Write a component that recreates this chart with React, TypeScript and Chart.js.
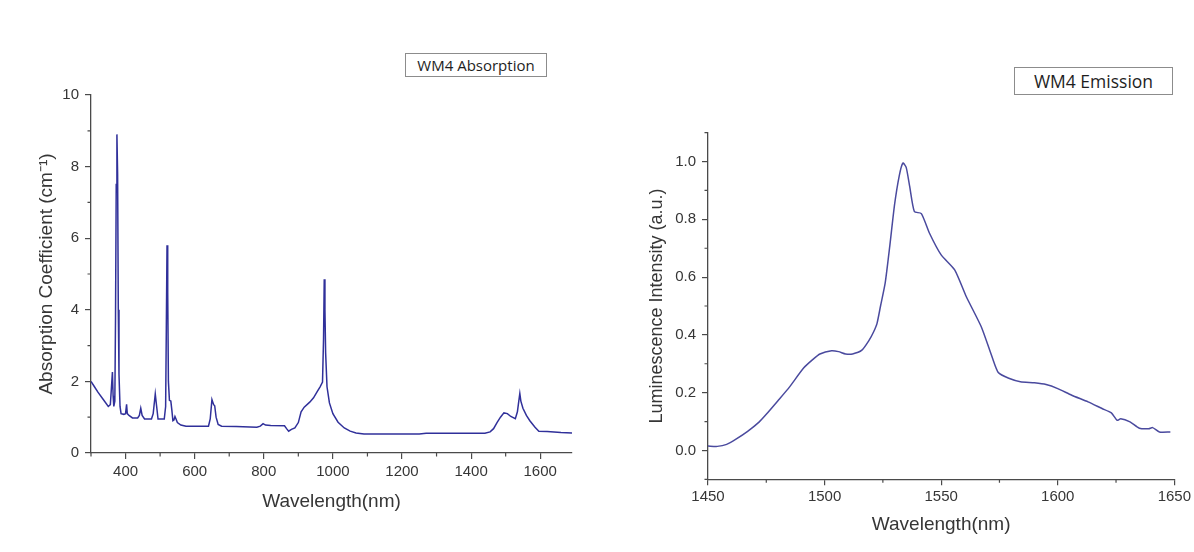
import React, { useEffect, useRef } from 'react';
import { Chart, registerables } from 'chart.js';

Chart.register(...registerables);

// ---------- Data: WM4 absorption ----------
const absWavelength = [
  300, 310, 320, 335, 350, 356, 359, 362, 364, 366, 369, 371, 373, 375, 377, 379, 381, 384, 387,
  395, 400, 403, 405, 410, 420, 435, 440, 444, 448, 455, 475, 480, 486, 490, 494, 512, 516, 518,
  520, 522, 524, 527, 531, 534, 537, 540, 543, 546, 550, 560, 575, 640, 645, 650, 655, 658, 662,
  668, 678, 720, 780, 790, 798, 805, 820, 860, 866, 872, 880, 890, 900, 908, 917, 933, 944, 955,
  963, 970, 973, 975, 977, 979, 983, 990, 1000, 1015, 1033, 1050, 1067, 1090, 1250, 1270, 1440,
  1455, 1465, 1475, 1485, 1495, 1505, 1515, 1528, 1534, 1538, 1541, 1544, 1550, 1560, 1570, 1585,
  1596, 1620, 1660, 1692,
];
const absCoefficient = [
  2.0, 1.85, 1.7, 1.5, 1.3, 1.35, 1.8, 2.26, 1.6, 1.3, 1.45, 3.8, 7.5, 8.9, 7.8, 4.0, 2.2, 1.3, 1.1,
  1.08, 1.1, 1.36, 1.1, 1.05, 0.98, 0.98, 1.05, 1.25, 1.05, 0.95, 0.95, 1.1, 1.65, 1.3, 0.95, 0.95, 1.3, 3.5,
  5.8, 4.5, 2.0, 1.47, 1.45, 1.2, 0.9, 0.92, 1.02, 0.95, 0.85, 0.78, 0.75, 0.75, 0.95, 1.49, 1.35, 1.32, 1.0,
  0.8, 0.75, 0.74, 0.72, 0.75, 0.82, 0.78, 0.77, 0.76, 0.68, 0.61, 0.66, 0.7, 0.85, 1.15, 1.28, 1.42, 1.54, 1.72,
  1.85, 1.98, 3.2, 4.85, 4.0, 2.8, 1.85, 1.4, 1.1, 0.86, 0.7, 0.61, 0.56, 0.53, 0.53, 0.55, 0.55,
  0.59, 0.68, 0.85, 1.0, 1.12, 1.1, 1.02, 0.96, 1.15, 1.45, 1.66, 1.45, 1.25, 1.05, 0.9, 0.72,
  0.61, 0.6, 0.57, 0.56,
];
const absXTicks = [400, 600, 800, 1000, 1200, 1400, 1600];
const absXMinor = [300, 500, 700, 900, 1100, 1300, 1500];
const absYTicks = [0, 2, 4, 6, 8, 10];
const absYMinor = [1, 3, 5, 7, 9];

// ---------- Data: WM4 emission ----------
const emWavelength = [
  1450, 1454, 1458, 1462, 1467, 1472, 1475, 1480, 1485, 1491, 1495, 1498, 1503, 1506, 1509, 1512,
  1516, 1519, 1521, 1522.5, 1524, 1526, 1528, 1530, 1532, 1533.6, 1535, 1536.5, 1538.5, 1541.5, 1545,
  1550, 1555.8, 1560.8, 1567.2, 1572, 1574.5, 1579, 1584, 1590, 1595, 1600, 1606, 1613, 1619, 1623,
  1625.5, 1627, 1631, 1635, 1639, 1640.7, 1643.6, 1648.3,
];
const emIntensity = [
  0.015, 0.014, 0.021, 0.039, 0.066, 0.099, 0.125, 0.172, 0.22, 0.285, 0.315, 0.334, 0.345, 0.342, 0.334, 0.334,
  0.347, 0.38, 0.41, 0.44, 0.5, 0.58, 0.71, 0.85, 0.95, 0.995, 0.98, 0.914, 0.827, 0.82, 0.752,
  0.677, 0.625, 0.532, 0.428, 0.32, 0.27, 0.25, 0.238, 0.234, 0.228, 0.214, 0.191, 0.168, 0.145, 0.13,
  0.104, 0.11, 0.099, 0.077, 0.075, 0.079, 0.064, 0.064,
];
const emXTicks = [1450, 1500, 1550, 1600, 1650];
const emXMinor = [1475, 1525, 1575, 1625];
const emYTicks = [0, 0.2, 0.4, 0.6, 0.8, 1.0];
const emYMinor = [-0.1, 0.1, 0.3, 0.5, 0.7, 0.9, 1.1];

const AXIS = '#4a4a4a';
const TEXT = '#363636';
const FONT = "'Liberation Sans', Arial, sans-serif";

function minorTicksPlugin(xs: number[], ys: number[]) {
  return {
    id: 'minorTicks',
    afterDraw(chart: any) {
      const ctx = chart.ctx;
      const sx = chart.scales.x;
      const sy = chart.scales.y;
      const { left, bottom } = chart.chartArea;
      ctx.save();
      ctx.strokeStyle = AXIS;
      ctx.lineWidth = 1.2;
      ctx.beginPath();
      for (const v of xs) {
        const px = sx.getPixelForValue(v);
        ctx.moveTo(px, bottom);
        ctx.lineTo(px, bottom + 3.5);
      }
      for (const v of ys) {
        const py = sy.getPixelForValue(v);
        ctx.moveTo(left, py);
        ctx.lineTo(left - 3.5, py);
      }
      ctx.stroke();
      ctx.restore();
    },
  };
}

interface Cfg {
  xs: number[];
  ys: number[];
  color: string;
  xMin: number;
  xMax: number;
  yMin: number;
  yMax: number;
  xTicks: number[];
  yTicks: number[];
  xMinor: number[];
  yMinor: number[];
  yDecimals: number;
  padding: { left: number; top: number; right: number; bottom: number };
  yWidth: number;
  xHeight: number;
  xTitle: string;
  yTitle: string;
  xTitleSize: number;
  yTitleSize: number;
  xTitlePad: number;
  yTitlePad: number;
  xTickPad: number;
  yTickPad: number;
  tension: number;
}

function makeChart(canvas: HTMLCanvasElement, c: Cfg) {
  return new Chart(canvas, {
    type: 'line',
    data: {
      datasets: [
        {
          data: c.xs.map((x, i) => ({ x, y: c.ys[i] })),
          borderColor: c.color,
          borderWidth: 1.5,
          pointRadius: 0,
          tension: c.tension,
          fill: false,
        },
      ],
    },
    options: {
      responsive: false,
      animation: false,
      events: [],
      layout: { padding: c.padding },
      plugins: { legend: { display: false }, tooltip: { enabled: false }, title: { display: false } },
      scales: {
        x: {
          type: 'linear',
          min: c.xMin,
          max: c.xMax,
          afterBuildTicks: (s: any) => {
            s.ticks = c.xTicks.map((v) => ({ value: v }));
          },
          afterFit: (s: any) => {
            s.height = c.xHeight;
          },
          grid: { drawOnChartArea: false, drawTicks: true, tickLength: 6, color: AXIS, lineWidth: 1.2 },
          border: { display: true, color: AXIS, width: 1.3 },
          ticks: {
            font: { family: FONT, size: 15 },
            color: TEXT,
            padding: c.xTickPad,
            maxRotation: 0,
            autoSkip: false,
            callback: (v: any) => String(v),
          },
          title: {
            display: true,
            text: c.xTitle,
            font: { family: FONT, size: c.xTitleSize },
            color: TEXT,
            padding: { top: 0, bottom: c.xTitlePad },
          },
        },
        y: {
          type: 'linear',
          min: c.yMin,
          max: c.yMax,
          afterBuildTicks: (s: any) => {
            s.ticks = c.yTicks.map((v) => ({ value: v }));
          },
          afterFit: (s: any) => {
            s.width = c.yWidth;
          },
          grid: { drawOnChartArea: false, drawTicks: true, tickLength: 6, color: AXIS, lineWidth: 1.2 },
          border: { display: true, color: AXIS, width: 1.3 },
          ticks: {
            font: { family: FONT, size: 15 },
            color: TEXT,
            padding: c.yTickPad,
            autoSkip: false,
            callback: (v: any) => Number(v).toFixed(c.yDecimals),
          },
          title: {
            display: true,
            text: c.yTitle,
            font: { family: FONT, size: c.yTitleSize },
            color: TEXT,
            padding: { top: c.yTitlePad, bottom: 0 },
          },
        },
      },
    },
    plugins: [minorTicksPlugin(c.xMinor, c.yMinor)],
  } as any);
}

export default function App() {
  const leftRef = useRef<HTMLCanvasElement>(null);
  const rightRef = useRef<HTMLCanvasElement>(null);

  useEffect(() => {
    const a = makeChart(leftRef.current!, {
      xs: absWavelength,
      ys: absCoefficient,
      color: '#30309a',
      xMin: 300,
      xMax: 1692,
      yMin: 0,
      yMax: 10,
      xTicks: absXTicks,
      yTicks: absYTicks,
      xMinor: absXMinor,
      yMinor: absYMinor,
      yDecimals: 0,
      padding: { left: 0, top: 95, right: 28, bottom: 0 },
      yWidth: 91,
      xHeight: 99,
      xTitle: 'Wavelength(nm)',
      yTitle: 'Absorption Coefficient (cm\u207B\u00B9)',
      xTitleSize: 19,
      yTitleSize: 19,
      xTitlePad: 38.6,
      yTitlePad: 35.6,
      xTickPad: 4,
      yTickPad: 6,
      tension: 0,
    });
    const b = makeChart(rightRef.current!, {
      xs: emWavelength,
      ys: emIntensity,
      color: '#4a4a9e',
      xMin: 1450,
      xMax: 1650,
      yMin: -0.1,
      yMax: 1.1,
      xTicks: emXTicks,
      yTicks: emYTicks,
      xMinor: emXMinor,
      yMinor: emYMinor,
      yDecimals: 1,
      padding: { left: 0, top: 132.7, right: 19, bottom: 0 },
      yWidth: 111,
      xHeight: 72.7,
      xTitle: 'Wavelength(nm)',
      yTitle: 'Luminescence Intensity (a.u.)',
      xTitleSize: 19,
      yTitleSize: 18,
      xTitlePad: 15.6,
      yTitlePad: 49.2,
      xTickPad: 3,
      yTickPad: 6,
      tension: 0.2,
    });
    return () => {
      a.destroy();
      b.destroy();
    };
  }, []);

  const boxBase: React.CSSProperties = {
    position: 'absolute',
    boxSizing: 'border-box',
    border: '1px solid #8c8c8c',
    background: '#fff',
    color: '#1e1e1e',
    fontFamily: "'Open Sans', 'Noto Sans', sans-serif",
    fontWeight: 400,
    display: 'flex',
    alignItems: 'center',
    justifyContent: 'center',
    whiteSpace: 'nowrap',
  };

  return (
    <div style={{ position: 'fixed', left: 0, top: 0, width: 1194, height: 552, background: '#fff', overflow: 'hidden' }}>
      <canvas ref={leftRef} width={600} height={552} style={{ position: 'absolute', left: 0, top: 0, width: 600, height: 552 }} />
      <canvas ref={rightRef} width={597} height={552} style={{ position: 'absolute', left: 597, top: 0, width: 597, height: 552 }} />
      <div style={{ ...boxBase, left: 405, top: 53, width: 142, height: 24, fontSize: 15 }}>WM4 Absorption</div>
      <div style={{ ...boxBase, left: 1014, top: 67, width: 159, height: 28, fontSize: 17.5 }}>WM4 Emission</div>
    </div>
  );
}
